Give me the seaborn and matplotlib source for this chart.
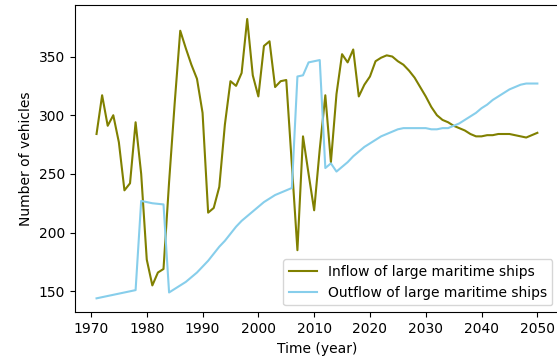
import matplotlib
matplotlib.use("Agg")
import matplotlib.pyplot as plt
import seaborn as sns
import pandas as pd

years = list(range(1971, 2051))

inflow = [
    284, 317, 291, 300, 277, 236, 242, 294, 250, 177,   # 1971-1980
    155, 166, 169, 243, 310, 372, 357, 343, 331, 302,   # 1981-1990
    217, 221, 239, 292, 329, 325, 336, 382, 334, 316,   # 1991-2000
    359, 363, 324, 329, 330, 258, 185, 282, 250, 219,   # 2001-2010
    271, 317, 260, 318, 352, 345, 356, 316, 326, 333,   # 2011-2020
    346, 349, 351, 350, 346, 343, 338, 332, 324, 316,   # 2021-2030
    307, 300, 296, 294, 291, 289, 287, 284, 282, 282,   # 2031-2040
    283, 283, 284, 284, 284, 283, 282, 281, 283, 285,   # 2041-2050
]

outflow = [
    144, 145, 146, 147, 148, 149, 150, 151, 227, 226,   # 1971-1980
    225, 224.5, 224, 149, 152, 155, 158, 162, 166, 171, # 1981-1990
    176, 182, 188, 193, 199, 205, 210, 214, 218, 222,   # 1991-2000
    226, 229, 232, 234, 236, 238, 333, 334, 345, 346,   # 2001-2010
    347, 255, 259, 252, 256, 260, 265, 269, 273, 276,   # 2011-2020
    279, 282, 284, 286, 288, 289, 289, 289, 289, 289,   # 2021-2030
    288, 288, 289, 289, 291, 293, 296, 299, 302, 306,   # 2031-2040
    309, 313, 316, 319, 322, 324, 326, 327, 327, 327,   # 2041-2050
]

labels = ["Inflow of large maritime ships", "Outflow of large maritime ships"]
colors = ["olive", "skyblue"]

df_in = pd.DataFrame({"year": years, "value": inflow})
df_out = pd.DataFrame({"year": years, "value": outflow})

fig = plt.figure(figsize=(5.57, 3.58), dpi=100)
ax = fig.add_axes([74.5 / 557, 1 - 312.3 / 358, 484.9 / 557, (312.3 - 5) / 358])

sns.lineplot(data=df_in, x="year", y="value", color=colors[0], label=labels[0], ax=ax, linewidth=1.5)
sns.lineplot(data=df_out, x="year", y="value", color=colors[1], label=labels[1], ax=ax, linewidth=1.5)

ax.set_xlabel("Time (year)")
ax.set_ylabel("Number of vehicles")
ax.set_xticks(range(1970, 2051, 10))
ax.set_yticks([150, 200, 250, 300, 350])
ax.legend(loc="lower right")

fig.savefig("out.png", dpi=100)
